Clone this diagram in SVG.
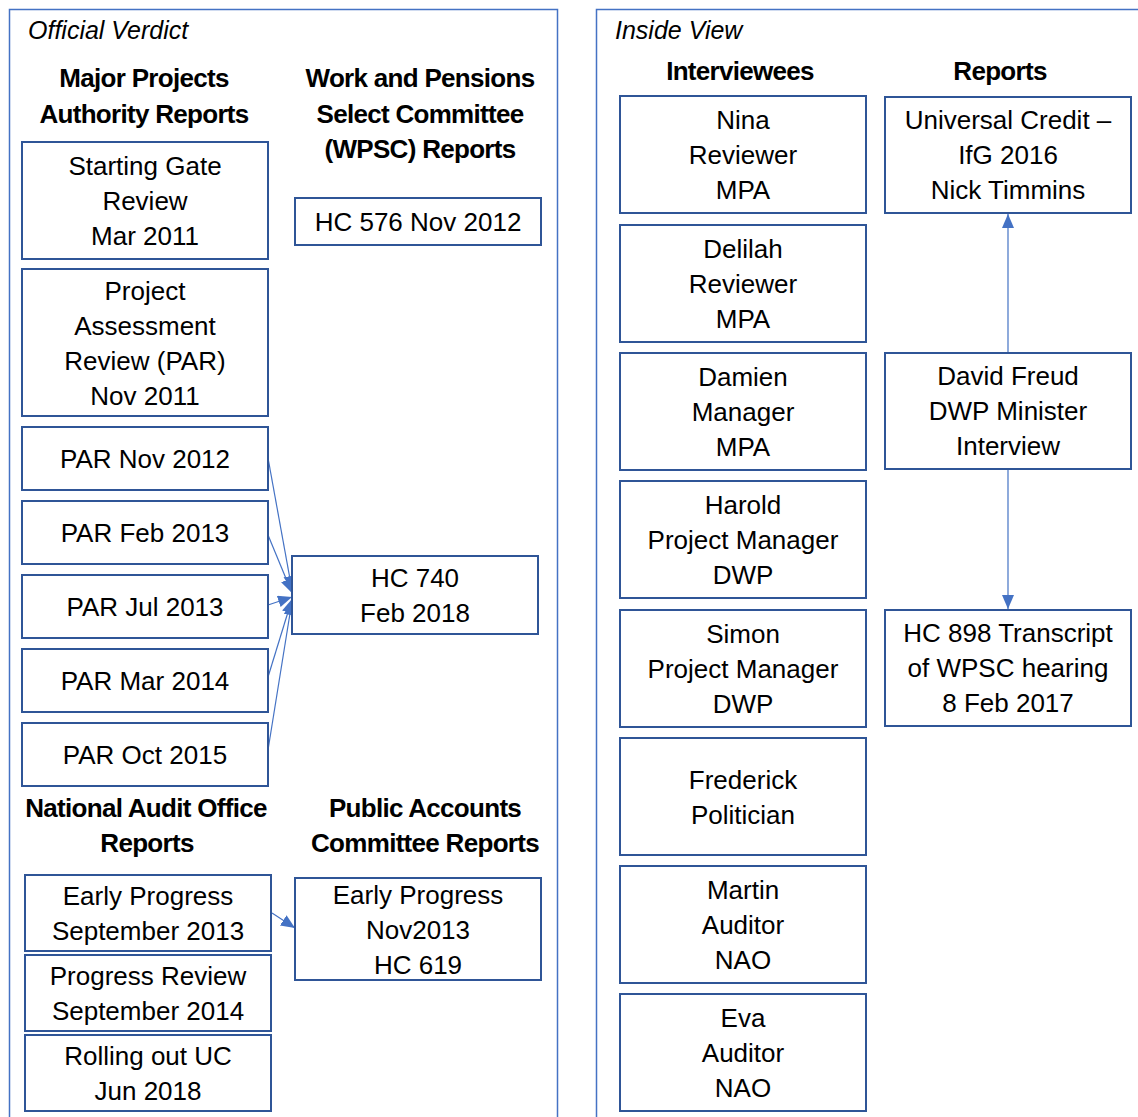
<svg xmlns="http://www.w3.org/2000/svg" width="1138" height="1117" viewBox="0 0 1138 1117">
<style>
.panel{fill:none;stroke:#4472C4;stroke-width:1.5}
.box{fill:#FFFFFF;stroke:#2F5597;stroke-width:2}
.t{font-family:"Liberation Sans",Arial,sans-serif;font-size:26px;fill:#000;text-anchor:middle}
.h{font-family:"Liberation Sans",Arial,sans-serif;font-size:26px;font-weight:bold;fill:#000;text-anchor:middle;letter-spacing:-0.7px}
.it{font-family:"Liberation Sans",Arial,sans-serif;font-size:25px;font-style:italic;fill:#000}
.conn{stroke:#4472C4;stroke-width:1.2;fill:none;marker-end:url(#ah)}
</style>
<defs>
<marker id="ah" markerUnits="userSpaceOnUse" markerWidth="15" markerHeight="13" refX="14" refY="6" orient="auto">
<path d="M0,0 L14,6 L0,12 z" fill="#4472C4"/>
</marker>
</defs>
<rect width="1138" height="1117" fill="#FFFFFF"/>

<g id="panel-official">
<rect class="panel" x="9.5" y="9.5" width="548" height="1130"/>
<text class="it" x="28" y="39">Official Verdict</text>
<text class="h" x="144" y="87">Major Projects</text>
<text class="h" x="144" y="123">Authority Reports</text>
<text class="h" x="420" y="87">Work and Pensions</text>
<text class="h" x="420" y="123">Select Committee</text>
<text class="h" x="420" y="158">(WPSC) Reports</text>
<text class="h" x="146" y="817">National Audit Office</text>
<text class="h" x="147" y="852">Reports</text>
<text class="h" x="425" y="817">Public Accounts</text>
<text class="h" x="425" y="852">Committee Reports</text>
</g>

<g id="panel-inside">
<rect class="panel" x="596.5" y="9.5" width="560" height="1130"/>
<text class="it" x="615" y="39">Inside View</text>
<text class="h" x="740" y="80">Interviewees</text>
<text class="h" x="1000" y="80">Reports</text>
</g>

<g id="connectors">
<line class="conn" x1="268" y1="458" x2="292" y2="590"/>
<line class="conn" x1="268" y1="535" x2="292" y2="593"/>
<line class="conn" x1="268" y1="605" x2="292" y2="597"/>
<line class="conn" x1="268" y1="677" x2="292" y2="599"/>
<line class="conn" x1="268" y1="750" x2="292" y2="601"/>
<line class="conn" x1="272" y1="913" x2="295" y2="928"/>
<line class="conn" x1="1008" y1="353" x2="1008" y2="214"/>
<line class="conn" x1="1008" y1="469" x2="1008" y2="609"/>
</g>

<g id="starting-gate">
<rect class="box" x="22" y="142" width="246" height="117"/>
<text class="t" x="145" y="175">Starting Gate</text>
<text class="t" x="145" y="210">Review</text>
<text class="t" x="145" y="245">Mar 2011</text>
</g>
<g id="par-2011">
<rect class="box" x="22" y="269" width="246" height="147"/>
<text class="t" x="145" y="300">Project</text>
<text class="t" x="145" y="335">Assessment</text>
<text class="t" x="145" y="370">Review (PAR)</text>
<text class="t" x="145" y="405">Nov 2011</text>
</g>
<g id="par-nov-2012">
<rect class="box" x="22" y="427" width="246" height="63"/>
<text class="t" x="145" y="468">PAR Nov 2012</text>
</g>
<g id="par-feb-2013">
<rect class="box" x="22" y="501" width="246" height="63"/>
<text class="t" x="145" y="542">PAR Feb 2013</text>
</g>
<g id="par-jul-2013">
<rect class="box" x="22" y="575" width="246" height="63"/>
<text class="t" x="145" y="616">PAR Jul 2013</text>
</g>
<g id="par-mar-2014">
<rect class="box" x="22" y="649" width="246" height="63"/>
<text class="t" x="145" y="690">PAR Mar 2014</text>
</g>
<g id="par-oct-2015">
<rect class="box" x="22" y="723" width="246" height="63"/>
<text class="t" x="145" y="764">PAR Oct 2015</text>
</g>

<g id="hc576">
<rect class="box" x="295" y="198" width="246" height="47"/>
<text class="t" x="418" y="231">HC 576 Nov 2012</text>
</g>
<g id="hc740">
<rect class="box" x="292" y="556" width="246" height="78"/>
<text class="t" x="415" y="587">HC 740</text>
<text class="t" x="415" y="622">Feb 2018</text>
</g>

<g id="nao-early">
<rect class="box" x="25" y="875" width="246" height="76"/>
<text class="t" x="148" y="905">Early Progress</text>
<text class="t" x="148" y="940">September 2013</text>
</g>
<g id="nao-progress">
<rect class="box" x="25" y="955" width="246" height="76"/>
<text class="t" x="148" y="985">Progress Review</text>
<text class="t" x="148" y="1020">September 2014</text>
</g>
<g id="nao-rolling">
<rect class="box" x="25" y="1035" width="246" height="76"/>
<text class="t" x="148" y="1065">Rolling out UC</text>
<text class="t" x="148" y="1100">Jun 2018</text>
</g>
<g id="pac-early">
<rect class="box" x="295" y="878" width="246" height="102"/>
<text class="t" x="418" y="904">Early Progress</text>
<text class="t" x="418" y="939">Nov2013</text>
<text class="t" x="418" y="974">HC 619</text>
</g>

<g id="nina">
<rect class="box" x="620" y="96" width="246" height="117"/>
<text class="t" x="743" y="129">Nina</text>
<text class="t" x="743" y="164">Reviewer</text>
<text class="t" x="743" y="199">MPA</text>
</g>
<g id="delilah">
<rect class="box" x="620" y="225" width="246" height="117"/>
<text class="t" x="743" y="258">Delilah</text>
<text class="t" x="743" y="293">Reviewer</text>
<text class="t" x="743" y="328">MPA</text>
</g>
<g id="damien">
<rect class="box" x="620" y="353" width="246" height="117"/>
<text class="t" x="743" y="386">Damien</text>
<text class="t" x="743" y="421">Manager</text>
<text class="t" x="743" y="456">MPA</text>
</g>
<g id="harold">
<rect class="box" x="620" y="481" width="246" height="117"/>
<text class="t" x="743" y="514">Harold</text>
<text class="t" x="743" y="549">Project Manager</text>
<text class="t" x="743" y="584">DWP</text>
</g>
<g id="simon">
<rect class="box" x="620" y="610" width="246" height="117"/>
<text class="t" x="743" y="643">Simon</text>
<text class="t" x="743" y="678">Project Manager</text>
<text class="t" x="743" y="713">DWP</text>
</g>
<g id="frederick">
<rect class="box" x="620" y="738" width="246" height="117"/>
<text class="t" x="743" y="789">Frederick</text>
<text class="t" x="743" y="824">Politician</text>
</g>
<g id="martin">
<rect class="box" x="620" y="866" width="246" height="117"/>
<text class="t" x="743" y="899">Martin</text>
<text class="t" x="743" y="934">Auditor</text>
<text class="t" x="743" y="969">NAO</text>
</g>
<g id="eva">
<rect class="box" x="620" y="994" width="246" height="117"/>
<text class="t" x="743" y="1027">Eva</text>
<text class="t" x="743" y="1062">Auditor</text>
<text class="t" x="743" y="1097">NAO</text>
</g>

<g id="ifg-report">
<rect class="box" x="885" y="97" width="246" height="116"/>
<text class="t" x="1008" y="129">Universal Credit –</text>
<text class="t" x="1008" y="164">IfG 2016</text>
<text class="t" x="1008" y="199">Nick Timmins</text>
</g>
<g id="david-freud">
<rect class="box" x="885" y="353" width="246" height="116"/>
<text class="t" x="1008" y="385">David Freud</text>
<text class="t" x="1008" y="420">DWP Minister</text>
<text class="t" x="1008" y="455">Interview</text>
</g>
<g id="hc898">
<rect class="box" x="885" y="610" width="246" height="116"/>
<text class="t" x="1008" y="642">HC 898 Transcript</text>
<text class="t" x="1008" y="677">of WPSC hearing</text>
<text class="t" x="1008" y="712">8 Feb 2017</text>
</g>
</svg>
